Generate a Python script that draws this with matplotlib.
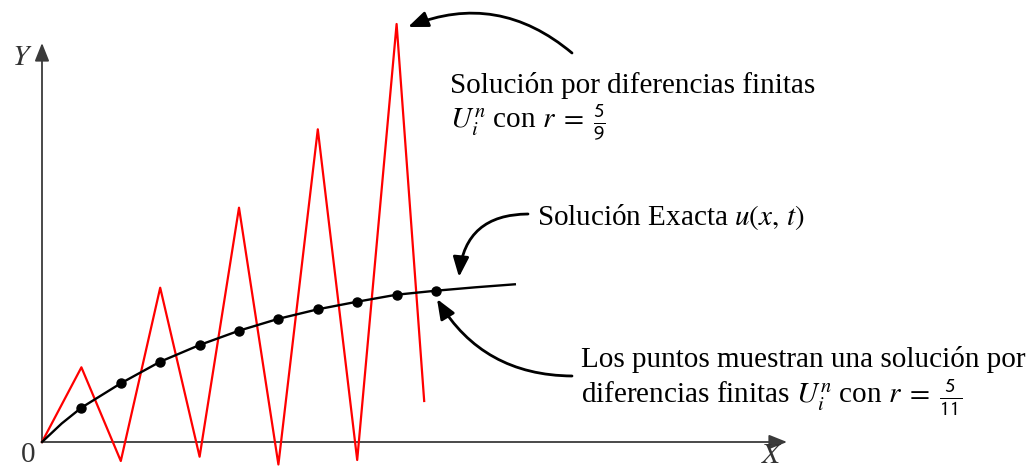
import matplotlib
matplotlib.use("Agg")
import matplotlib.pyplot as plt
from matplotlib.transforms import Affine2D

plt.rcParams["font.family"] = ["Liberation Serif", "DejaVu Serif"]
plt.rcParams["mathtext.fontset"] = "stix"

# Grid index (step h) and values of the exact solution u(x, t)
curve_x = [0, 0.5, 1, 2, 3, 4, 5, 6, 7, 8, 9, 10, 11, 12]
curve_y = [0, 0.185, 0.343, 0.587, 0.803, 0.97, 1.113, 1.232, 1.327, 1.403,
           1.473, 1.513, 1.547, 1.577]

# Stable finite-difference solution (r = 5/11), one point per grid node
dots_x = [1, 2, 3, 4, 5, 6, 7, 8, 9, 10]
dots_y = [0.343, 0.587, 0.803, 0.97, 1.113, 1.232, 1.327, 1.403, 1.473, 1.513]

# Unstable finite-difference solution (r = 5/9)
zig_x = [0, 1, 2, 3, 4, 5, 6, 7, 8, 9, 9.7]
zig_y = [0, 0.747, -0.19, 1.543, -0.147, 2.343, -0.225, 3.127, -0.18, 4.18, 0.41]

W, H = 1036, 471
fig = plt.figure(figsize=(W / 100, H / 100), dpi=100)
ax = fig.add_axes([0, 0, 1, 1])
ax.set_axis_off()

# data units: 39.4 px per step in x, 100 px per unit in y, origin at (42, 442)
x0, y0, sx, sy = 42, 442, 39.4, 100
ax.set_xlim(-x0 / sx, (W - x0) / sx)
ax.set_ylim(-(H - y0) / sy, y0 / sy)

# pixel coordinates measured from the top-left corner
px = Affine2D().scale(1, -1).translate(0, H)

axis_col = "#3a3a3a"
axis_arrow = dict(arrowstyle="-|>,head_length=0.55,head_width=0.22", color=axis_col,
                  lw=1.3, shrinkA=0, shrinkB=0, mutation_scale=20)
ax.annotate("", xy=((787 - x0) / sx, 0), xytext=(0, 0), arrowprops=axis_arrow)
ax.annotate("", xy=(0, (y0 - 43) / sy), xytext=(0, 0), arrowprops=axis_arrow)

ax.plot(zig_x, zig_y, color="#ff0000", lw=1.6, zorder=3)
ax.plot(curve_x, curve_y, color="black", lw=1.7, zorder=4)
ax.plot(dots_x, dots_y, "o", color="black", ms=6.5, zorder=5)

fs = 21
ax.text(22, 58, "$Y$", transform=px, fontsize=fs, ha="center", va="center", color="#333333")
ax.text(28, 455, "0", transform=px, fontsize=fs, ha="center", va="center", color="#333333")
ax.text(772, 456, "$X$", transform=px, fontsize=fs, ha="center", va="center", color="#333333")

ax.text(450, 93, "Solución por diferencias finitas", transform=px, fontsize=fs,
        ha="left", va="baseline")
ax.text(450, 128, r"$U_i^n$ con $r\;=\;\frac{\mathsf{5}}{\mathsf{9}}$", transform=px,
        fontsize=fs, ha="left", va="baseline")
ax.text(537, 225, r"Solución Exacta $u(x,\,t)$", transform=px, fontsize=fs,
        ha="left", va="baseline")
ax.text(581, 367, "Los puntos muestran una solución por", transform=px, fontsize=fs,
        ha="left", va="baseline")
ax.text(581, 403, r"diferencias finitas $U_i^n$ con $r\;=\;\frac{\mathsf{5}}{\mathsf{11}}$",
        transform=px, fontsize=fs, ha="left", va="baseline")

def callout(tip, tail, rad):
    ax.annotate("", xy=tip, xycoords=px, xytext=tail, textcoords=px,
                arrowprops=dict(arrowstyle="-|>,head_length=0.6,head_width=0.24",
                                color="black", lw=2, shrinkA=0, shrinkB=0,
                                mutation_scale=20,
                                connectionstyle=f"arc3,rad={rad}"))

callout((408, 27), (572, 53), 0.3)
callout((459, 277), (528, 214), 0.45)
callout((437, 299), (572, 376), -0.28)

fig.savefig("out.png", dpi=100)
